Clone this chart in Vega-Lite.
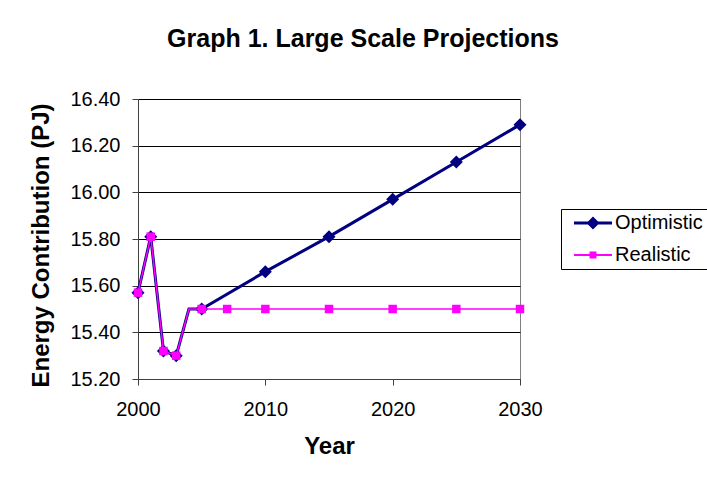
{
  "$schema": "https://vega.github.io/schema/vega-lite/v6.json",
  "width": 382,
  "height": 280,
  "autosize": "none",
  "padding": {"left": 138, "top": 99, "right": 187, "bottom": 98},
  "background": "white",
  "config": {
    "font": "Liberation Sans",
    "view": {"stroke": "#808080", "strokeWidth": 1}
  },
  "title": {
    "text": "Graph 1. Large Scale Projections",
    "fontSize": 25,
    "fontWeight": "bold",
    "color": "black",
    "font": "Liberation Sans",
    "anchor": "middle",
    "frame": "group",
    "dx": 34,
    "baseline": "alphabetic",
    "offset": 17
  },
  "datasets": {
    "projections": [
      {"series": "Optimistic", "year": 2000, "value": 15.57},
      {"series": "Optimistic", "year": 2001, "value": 15.81},
      {"series": "Optimistic", "year": 2002, "value": 15.32},
      {"series": "Optimistic", "year": 2003, "value": 15.30},
      {"series": "Optimistic", "year": 2004, "value": 15.50},
      {"series": "Optimistic", "year": 2005, "value": 15.50},
      {"series": "Optimistic", "year": 2010, "value": 15.66},
      {"series": "Optimistic", "year": 2015, "value": 15.81},
      {"series": "Optimistic", "year": 2020, "value": 15.97},
      {"series": "Optimistic", "year": 2025, "value": 16.13},
      {"series": "Optimistic", "year": 2030, "value": 16.29},
      {"series": "Realistic", "year": 2000, "value": 15.57},
      {"series": "Realistic", "year": 2001, "value": 15.81},
      {"series": "Realistic", "year": 2002, "value": 15.32},
      {"series": "Realistic", "year": 2003, "value": 15.30},
      {"series": "Realistic", "year": 2004, "value": 15.50},
      {"series": "Realistic", "year": 2005, "value": 15.50},
      {"series": "Realistic", "year": 2007, "value": 15.50},
      {"series": "Realistic", "year": 2010, "value": 15.50},
      {"series": "Realistic", "year": 2015, "value": 15.50},
      {"series": "Realistic", "year": 2020, "value": 15.50},
      {"series": "Realistic", "year": 2025, "value": 15.50},
      {"series": "Realistic", "year": 2030, "value": 15.50}
    ]
  },
  "data": {"name": "projections"},
  "encoding": {
    "x": {
      "field": "year",
      "type": "quantitative",
      "scale": {"domain": [2000, 2030], "nice": false, "zero": false},
      "axis": {
        "title": "Year",
        "titleFontSize": 24,
        "titleFontWeight": "bold",
        "titleColor": "black",
        "titlePadding": 15,
        "values": [2000, 2010, 2020, 2030],
        "format": "d",
        "labelFontSize": 20,
        "labelColor": "black",
        "labelPadding": 14,
        "labelFlush": false,
        "labelOverlap": false,
        "tickSize": 6,
        "tickColor": "#404040",
        "domainColor": "#404040",
        "grid": false
      }
    },
    "y": {
      "field": "value",
      "type": "quantitative",
      "scale": {"domain": [15.2, 16.4], "nice": false, "zero": false},
      "axis": {
        "title": "Energy Contribution (PJ)",
        "titleFontSize": 24,
        "titleFontWeight": "bold",
        "titleColor": "black",
        "titlePadding": 16,
        "titleY": 146,
        "values": [15.2, 15.4, 15.6, 15.8, 16.0, 16.2, 16.4],
        "format": ".2f",
        "labelFontSize": 20,
        "labelColor": "black",
        "labelPadding": 12,
        "labelFlush": false,
        "labelOverlap": false,
        "tickSize": 6,
        "tickColor": "#404040",
        "domainColor": "#404040",
        "grid": true,
        "gridColor": "black",
        "gridOpacity": 1
      }
    },
    "color": {
      "field": "series",
      "type": "nominal",
      "scale": {"domain": ["Optimistic", "Realistic"], "range": ["#000080", "#FF00FF"]},
      "legend": {
        "title": null,
        "orient": "none",
        "legendX": 423,
        "legendY": 110,
        "strokeColor": "black",
        "fillColor": "white",
        "padding": 4,
        "labelFontSize": 20,
        "labelColor": "black",
        "labelFont": "Liberation Sans",
        "labelOffset": 30,
        "symbolSize": 100,
        "rowPadding": 12,
        "encode": {
          "symbols": {
            "update": {
              "shape": {"signal": "datum.value === 'Optimistic' ? 'M-0.2,-0.3H7.4V0.3H-0.2Z M3.6,-1.3L4.9,0L3.6,1.3L2.3,0Z' : 'M-0.2,-0.2H7.4V0.2H-0.2Z M2.9,-0.7H4.3V0.7H2.9Z'"},
              "fill": {"signal": "scale('color', datum.value)"},
              "fillOpacity": {"value": 1},
              "opacity": {"value": 1},
              "stroke": {"value": "transparent"},
              "strokeWidth": {"value": 0}
            }
          }
        }
      }
    }
  },
  "layer": [
    {
      "transform": [{"filter": "datum.series === 'Optimistic'"}],
      "mark": {"type": "line", "strokeWidth": 3}
    },
    {
      "transform": [{"filter": "datum.series === 'Optimistic' && datum.year !== 2004"}],
      "mark": {"type": "point", "shape": "diamond", "filled": true, "size": 169, "opacity": 1}
    },
    {
      "transform": [{"filter": "datum.series === 'Realistic'"}],
      "mark": {"type": "line", "strokeWidth": 1.5}
    },
    {
      "transform": [{"filter": "datum.series === 'Realistic' && datum.year !== 2004"}],
      "mark": {"type": "point", "shape": "square", "filled": true, "size": 72, "opacity": 1}
    }
  ]
}
